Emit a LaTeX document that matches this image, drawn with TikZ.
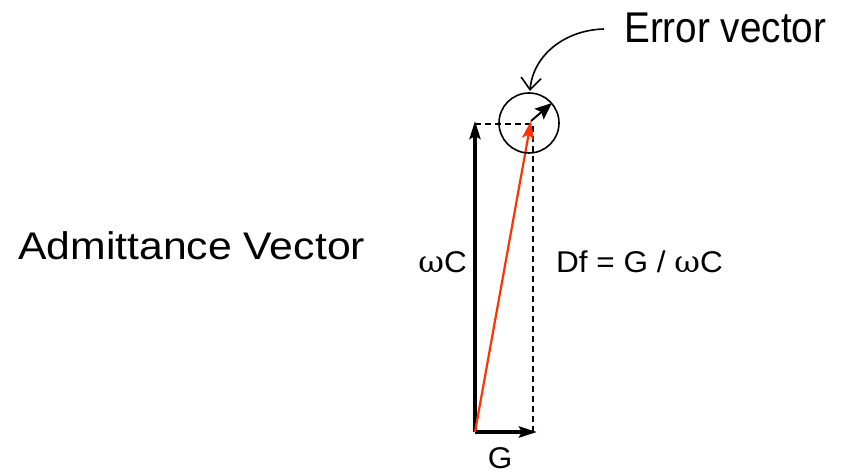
\documentclass[tikz,border=0pt]{standalone}
\usepackage{fontspec}
\setmainfont{Liberation Sans}
\newfontfamily\narrowfont[FakeStretch=0.9]{Liberation Sans}
\newfontfamily\widefont[FakeStretch=1.11]{Liberation Sans}
\newfontfamily\midfont[FakeStretch=1.05]{Liberation Sans}
\newfontfamily\symfont[FakeStretch=1.05]{DejaVu Serif}
\usetikzlibrary{arrows.meta}
\tikzset{
  vec/.style={line width=3.5pt,-{Stealth[length=18pt,width=11pt,inset=3pt]}},
  redvec/.style={line width=2.2pt,draw={rgb,255:red,255;green,51;blue,0},-{Stealth[length=18pt,width=12pt,inset=4pt]}},
  guide/.style={line width=1.1pt,dash pattern=on 6pt off 4pt},
  lbl/.style={inner sep=0pt,font=\midfont\fontsize{30}{33}\selectfont},
}
\newcommand{\om}{{\symfont ω}}
\begin{document}
\begin{tikzpicture}[x=1pt,y=-1pt]
\useasboundingbox (0,0) rectangle (844,473);
\coordinate (O) at (475,432);
\coordinate (T) at (475,121);
\coordinate (Gend) at (537,432);
\coordinate (Cr) at (533,124);
\coordinate (Cb) at (533,432);
\coordinate (Tl) at (475,124);
\coordinate (R) at (531,121);
\coordinate (E) at (552,103);
\coordinate (ES) at (604,29);
\coordinate (EE) at (530,91);
% dashed guides
\draw[guide] (Tl) -- (Cr) -- (Cb);
% vectors
\draw[vec] (O) -- (T);
\draw[vec,line width=4.5pt] (O) -- (Gend);
\draw[redvec] (O) -- (R);
\draw[line width=2pt,-{Stealth[length=17pt,width=14pt,inset=3pt]}] (R) -- (E);
% circle
\node[draw,line width=1.6pt,circle,minimum size=60pt,inner sep=0pt] (circ) at (529,123) {};
% curved arrow
\draw[line width=1.6pt,-{Straight Barb[length=12pt,width=20pt]}] (ES) .. controls (565,30) and (533,55) .. (EE);
% labels
\node[inner sep=0pt,anchor=base west,font=\narrowfont\fontsize{43}{46}\selectfont] (err) at (624,43) {Error vector};
\node[inner sep=0pt,anchor=base west,font=\widefont\fontsize{38.5}{42}\selectfont] (adm) at (18,260) {Admittance Vector};
\node[lbl,anchor=base east] (wc) at (467,273) {\om C};
\node[lbl,anchor=base west] (df) at (556,273) {Df = G / \om C};
\node[lbl,anchor=base] (g) at (500,468) {G};
\end{tikzpicture}
\end{document}
